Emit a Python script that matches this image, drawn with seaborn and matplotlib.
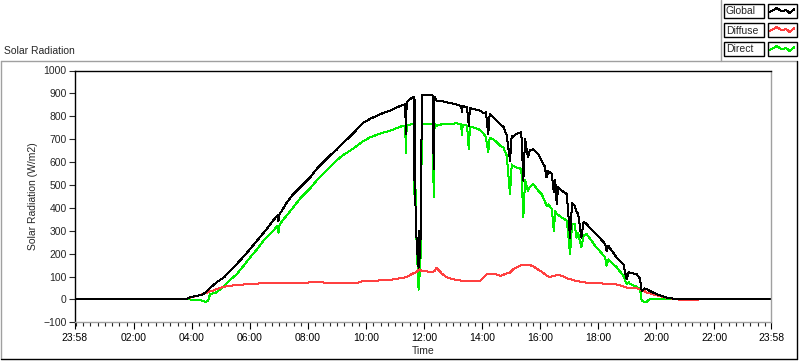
import numpy as np
import pandas as pd
import matplotlib
matplotlib.use("Agg")
import matplotlib.pyplot as plt
import seaborn as sns
from matplotlib.lines import Line2D
from matplotlib.patches import Rectangle
from matplotlib.ticker import MultipleLocator

# Time in clock hours (axis runs 23:58 -> 23:58)
hours = [-0.033, 3.80, 3.87, 4.10, 4.30, 4.39, 4.47, 4.55, 4.62, 4.73, 4.85, 5.10, 5.30, 5.54,
         5.80, 6.00, 6.25, 6.46, 6.57, 6.80, 6.95, 6.98, 7.02, 7.25, 7.49, 7.75, 8.05, 8.30,
         8.51, 8.75, 8.97, 9.20, 9.45, 9.70, 9.91, 10.14, 10.50, 10.83, 11.05, 11.28, 11.35,
         11.37, 11.40, 11.45, 11.55, 11.62, 11.64, 11.66, 11.68, 11.71, 11.74, 11.78, 11.81,
         11.84, 11.87, 11.90, 11.93, 12.10, 12.30, 12.33, 12.36, 12.43, 12.61, 12.78, 12.95,
         13.13, 13.28, 13.30, 13.33, 13.48, 13.54, 13.58, 13.75, 13.93, 14.05, 14.13, 14.21,
         14.26, 14.38, 14.62, 14.73, 14.85, 14.96, 15.02, 15.06, 15.18, 15.35, 15.42, 15.48,
         15.58, 15.64, 15.76, 15.93, 16.05, 16.16, 16.22, 16.28, 16.40, 16.47, 16.52, 16.57,
         16.62, 16.74, 16.92, 17.03, 17.10, 17.19, 17.25, 17.31, 17.42, 17.50, 17.60, 17.77,
         17.94, 18.10, 18.24, 18.29, 18.35, 18.47, 18.64, 18.87, 18.98, 19.05, 19.10, 19.33,
         19.44, 19.50, 19.60, 19.67, 19.78, 20.01, 20.35, 20.70, 20.85, 21.40, 21.45, 23.967]

global_wm2 = [0, 0, 7, 14, 19, 23, 31, 40, 49, 62, 75, 96, 123, 154,
              190, 220, 258, 290, 307, 345, 368, 343, 372, 420, 460, 493, 530, 570,
              597, 628, 652, 683, 712, 745, 772, 789, 810, 825, 838, 851, 852,
              723, 862, 868, 878, 883, 883, 520, 870, 280, 270, 180, 139,
              300, 180, 600, 891, 891, 891, 570, 885, 869, 866, 861, 857,
              851, 845, 820, 845, 839, 759, 835, 830, 825, 812, 817, 723,
              810, 795, 765, 755, 716, 606, 715, 708, 723, 730, 519, 700,
              621, 650, 657, 635, 606, 580, 533, 560, 548, 470, 520, 417,
              490, 475, 460, 270, 420, 409, 385, 373, 270, 340, 329, 305,
              285, 262, 242, 212, 235, 212, 183, 154, 88, 120, 117, 110,
              90, 37, 48, 45, 37, 23, 8, 1, 0, 0, 0, 0]

diffuse_wm2 = [0, 0, 6, 13, 20, 23, 27, 31, 35, 38, 45, 55, 59, 63,
               65, 67, 69, 71, 71, 71, 71, 71, 72, 72, 72, 73, 74, 74,
               74, 73, 72, 72, 71, 73, 80, 81, 83, 85, 90, 95, 96,
               97, 98, 102, 109, 113, 115, 116, 117, 118, 120, 125, 132,
               130, 128, 126, 124, 122, 121, 122, 125, 137, 113, 97, 90,
               85, 82, 81, 81, 81, 81, 81, 81, 81, 95, 108, 112,
               113, 113, 103, 108, 113, 117, 125, 130, 140, 150, 150, 150,
               150, 150, 145, 130, 122, 110, 105, 100, 100, 102, 104, 105,
               106, 104, 92, 88, 86, 82, 80, 79, 77, 75, 73, 71,
               70, 70, 69, 69, 68, 67, 65, 57, 52, 51, 50, 49,
               45, 41, 36, 30, 27, 18, 7, 1, -3, -3, 0, 0]

direct_wm2 = [0, 0, 0, -1, -4, -7, -10, -6, 22, 27, 31, 59, 84, 110,
              150, 183, 220, 256, 270, 300, 322, 292, 328, 365, 402, 445, 482, 520,
              548, 578, 606, 630, 650, 672, 692, 708, 725, 737, 748, 759, 759,
              641, 759, 760, 765, 767, 767, 462, 760, 400, 250, 130, 42,
              200, 100, 500, 767, 767, 767, 445, 765, 759, 765, 767, 768,
              769, 765, 716, 763, 759, 657, 755, 750, 740, 725, 708, 642,
              705, 701, 672, 664, 628, 460, 590, 584, 577, 570, 358, 520,
              475, 489, 504, 475, 460, 430, 409, 415, 395, 300, 385, 373,
              370, 358, 344, 198, 330, 329, 270, 290, 227, 280, 285, 256,
              227, 205, 183, 147, 175, 160, 140, 103, 67, 75, 67, 55,
              45, -7, -10, -10, 1, 0, 0, 0, 0, 0, 0, 0]

x_ticks = [-0.033, 2, 4, 6, 8, 10, 12, 14, 16, 18, 20, 22, 23.967]
x_labels = ["23:58", "02:00", "04:00", "06:00", "08:00", "10:00", "12:00",
            "14:00", "16:00", "18:00", "20:00", "22:00", "23:58"]
y_ticks = list(range(-100, 1001, 100))

series_names = ["Global", "Diffuse", "Direct"]
series_colors = {"Global": "#000000", "Diffuse": "#ff4040", "Direct": "#00ee00"}

df = pd.DataFrame({"hour": hours, "Global": global_wm2,
                   "Diffuse": diffuse_wm2, "Direct": direct_wm2})

sns.set_style("white")
plt.rcParams['font.family'] = ['Liberation Sans', 'DejaVu Sans']
plt.rcParams['font.size'] = 7.5

W, H = 800, 361
fig = plt.figure(figsize=(8, 3.61), dpi=100)
fig.patch.set_facecolor("white")


def fx(px):
    return px / W


def fy(py):
    return 1 - py / H


ax = fig.add_axes([fx(75), fy(322.3), fx(771.3) - fx(75), fy(70.5) - fy(322.3)])

# draw order: direct, diffuse, global on top
for name in ["Direct", "Diffuse", "Global"]:
    sns.lineplot(data=df, x="hour", y=name, ax=ax, color=series_colors[name],
                 linewidth=0.72, estimator=None, sort=False, antialiased=False)

ax.set_xlim(-0.033, 23.967)
ax.set_ylim(-100, 1000)
ax.set_xticks(x_ticks)
ax.set_xticklabels(x_labels)
ax.xaxis.set_minor_locator(MultipleLocator(0.25))
ax.set_yticks(y_ticks)
ax.tick_params(axis="x", which="major", length=5, width=0.8, direction="out",
               bottom=True, pad=3, colors="black")
ax.tick_params(axis="x", which="minor", length=3, width=0.8, direction="out", bottom=True)
ax.tick_params(axis="y", length=4, width=0.8, direction="out", left=True, pad=2)
ax.set_xlabel("Time", labelpad=2)
ax.set_ylabel("Solar Radiation (W/m2)", labelpad=4)
ax.grid(False)

for side in ["left", "top"]:
    ax.spines[side].set_color("black")
    ax.spines[side].set_linewidth(1)
for side in ["right", "bottom"]:
    ax.spines[side].set_color("#a0a0a0")
    ax.spines[side].set_linewidth(1)

# outer panel frame
grey = "#a0a0a0"
fig.add_artist(Line2D([fx(0.5), fx(797)], [fy(61), fy(61)], color=grey, lw=1))
fig.add_artist(Line2D([fx(0.5), fx(0.5)], [fy(61), fy(359)], color=grey, lw=1))
fig.add_artist(Line2D([fx(0.5), fx(797)], [fy(359), fy(359)], color="black", lw=1))
fig.add_artist(Line2D([fx(797), fx(797)], [fy(61), fy(359)], color="black", lw=1))

fig.text(fx(4), fy(51), "Solar Radiation", ha="left", va="center")

# legend panel
fig.add_artist(Line2D([fx(720.5), fx(720.5)], [fy(0), fy(61)], color=grey, lw=1))
row_tops = [4, 23, 42]
for name, top in zip(series_names, row_tops):
    fig.add_artist(Rectangle((fx(723.5), fy(top + 14)), fx(40), 14 / H,
                             fill=False, edgecolor="black", lw=1))
    fig.add_artist(Rectangle((fx(767.5), fy(top + 14)), fx(29), 14 / H,
                             fill=False, edgecolor="black", lw=1))
    fig.text(fx(726), fy(top + 7.5), name, ha="left", va="center")
    sw = fig.add_axes([fx(769), fy(top + 12), fx(26), 10 / H])
    sw.plot([0, 0.3, 0.5, 0.65, 0.8, 1.0], [0.35, 0.8, 0.45, 0.6, 0.3, 0.75],
            color=series_colors[name], lw=0.72, antialiased=False)
    sw.set_xlim(0, 1)
    sw.set_ylim(0, 1)
    sw.axis("off")

fig.savefig("out.png", dpi=100)
